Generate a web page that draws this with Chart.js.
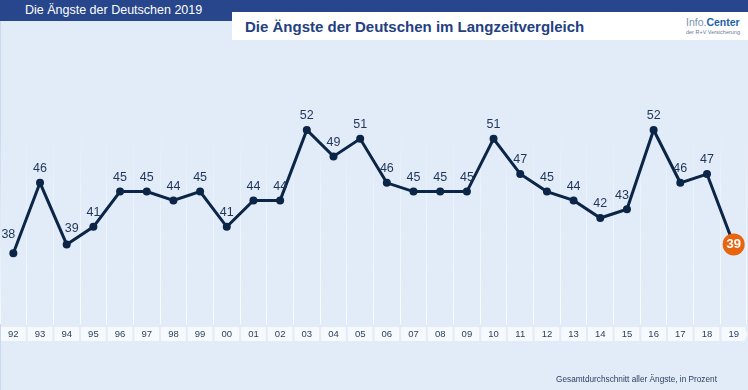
<!DOCTYPE html>
<html lang="de">
<head>
<meta charset="utf-8">
<title>Die Ängste der Deutschen im Langzeitvergleich</title>
<script src="https://cdn.jsdelivr.net/npm/chart.js@4.4.1/dist/chart.umd.min.js"></script>
<style>
  html, body { margin: 0; padding: 0; }
  body {
    width: 748px; height: 390px; overflow: hidden; position: relative;
    background: #e2ecf8;
    font-family: "Liberation Sans", Arial, sans-serif;
  }
  .edge { position: absolute; left: 0; top: 21px; width: 1px; height: 369px; background: #c8d9f0; }
  .topbar { position: absolute; left: 0; top: 0; width: 748px; height: 21px; background: #28468b; }
  .topbar span { position: absolute; left: 25px; top: 3px; color: #fff; font-size: 12.5px; }
  .titlebox { position: absolute; left: 232px; top: 12px; width: 516px; height: 28px; background: #fff; }
  .titlebox h1 { position: absolute; left: 13px; top: 6px; margin: 0; font-size: 15px; font-weight: bold; color: #23417f; white-space: nowrap; }
  .logo { position: absolute; left: 454px; top: 4px; text-align: left; }
  .logo .name { font-size: 10.5px; color: #7d8fb2; white-space: nowrap; }
  .logo .name b { color: #1d5fae; }
  .logo .sub { font-size: 5.5px; color: #6b7b98; margin-top: 1px; white-space: nowrap; }
  .note { position: absolute; left: 556px; top: 375px; font-size: 8.25px; color: #2b3f5e; white-space: nowrap; }
  #chart { position: absolute; left: 0; top: 0; }
</style>
</head>
<body>
<div class="topbar"><span>Die Ängste der Deutschen 2019</span></div>
<div class="edge"></div>
<div class="titlebox">
  <h1>Die Ängste der Deutschen im Langzeitvergleich</h1>
  <div class="logo"><div class="name">Info.<b>Center</b></div><div class="sub">der R+V Versicherung</div></div>
</div>
<canvas id="chart" width="748" height="390"></canvas>
<div class="note">Gesamtdurchschnitt aller Ängste, in Prozent</div>

<script>
// ==========================
// Data
// ==========================
const years = ['92', '93', '94', '95', '96', '97', '98', '99', '00', '01', '02', '03', '04', '05',
  '06', '07', '08', '09', '10', '11', '12', '13', '14', '15', '16', '17', '18', '19'];
const fearIndex = [38, 46, 39, 41, 45, 45, 44, 45, 41, 44, 44, 52, 49, 51,
  46, 45, 45, 45, 51, 47, 45, 44, 42, 43, 52, 46, 47, 39];

const navy = '#0b2546';
const orange = '#e8650f';
const lastIdx = fearIndex.length - 1;

// white label boxes behind the year ticks
const tickBoxes = {
  id: 'tickBoxes',
  beforeDraw(chart) {
    const ctx = chart.ctx;
    const x = chart.scales.x;
    const top = 327, bottom = 341;
    ctx.save();
    ctx.fillStyle = 'rgba(255,255,255,0.72)';
    years.forEach((y, i) => {
      const cx = x.getPixelForTick(i);
      ctx.beginPath();
      if (i === lastIdx) {
        ctx.moveTo(cx - 12, top);
        ctx.lineTo(cx + 11, top);
        ctx.lineTo(cx + 14, (top + bottom) / 2);
        ctx.lineTo(cx + 11, bottom);
        ctx.lineTo(cx - 12, bottom);
      } else {
        ctx.rect(cx - 12.3, top, 24.6, bottom - top);
      }
      ctx.fill();
    });
    ctx.restore();
  }
};

// nudge a label sideways when a steep segment would run through it
function labelShift(i) {
  const v = fearIndex[i];
  const prev = fearIndex[i - 1];
  const next = fearIndex[i + 1];
  if (next !== undefined && next - v >= 8 && (prev === undefined || prev < v)) {
    return { dx: -5, dy: prev === undefined ? -5 : 0 };
  }
  if (prev !== undefined && prev - v >= 7 && (next === undefined || next - v < prev - v)) {
    return { dx: 5, dy: -2 };
  }
  return { dx: 0, dy: 0 };
}

// value labels above points
const valueLabels = {
  id: 'valueLabels',
  afterDatasetsDraw(chart) {
    const ctx = chart.ctx;
    const meta = chart.getDatasetMeta(0);
    ctx.save();
    ctx.textAlign = 'center';
    ctx.textBaseline = 'middle';
    meta.data.forEach((pt, i) => {
      if (i === lastIdx) {
        ctx.font = 'bold 13px "Liberation Sans", Arial, sans-serif';
        ctx.fillStyle = '#fff';
        ctx.fillText(fearIndex[i], pt.x, pt.y + 0.5);
      } else {
        const s = labelShift(i);
        ctx.font = '12.5px "Liberation Sans", Arial, sans-serif';
        ctx.fillStyle = '#1f3557';
        ctx.fillText(fearIndex[i], pt.x + s.dx, pt.y - 14 + s.dy);
      }
    });
    ctx.restore();
  }
};

new Chart(document.getElementById('chart').getContext('2d'), {
  type: 'line',
  data: {
    labels: years,
    datasets: [{
      data: fearIndex,
      borderColor: navy,
      borderWidth: 3,
      tension: 0,
      pointRadius: fearIndex.map((v, i) => i === lastIdx ? 11 : 4),
      pointBackgroundColor: fearIndex.map((v, i) => i === lastIdx ? orange : navy),
      pointBorderColor: fearIndex.map((v, i) => i === lastIdx ? orange : navy),
      pointBorderWidth: 0,
      clip: false
    }]
  },
  options: {
    responsive: false,
    animation: false,
    layout: { autoPadding: false, padding: { top: 42, left: 0, right: 1, bottom: 45 } },
    plugins: { legend: { display: false }, tooltip: { enabled: false } },
    scales: {
      x: {
        offset: true,
        border: { display: false },
        // the categories already leave room for the labels
        afterFit: (scale) => { scale.paddingLeft = 0; scale.paddingRight = 0; },
        grid: {
          offset: true,
          drawTicks: false,
          lineWidth: 1,
          color: (c) => {
            const a = c.chart.chartArea;
            if (!a) return 'rgba(255,255,255,0.6)';
            const g = c.chart.ctx.createLinearGradient(0, a.top, 0, a.bottom);
            g.addColorStop(0, 'rgba(255,255,255,0)');
            g.addColorStop(0.3, 'rgba(255,255,255,0)');
            g.addColorStop(1, 'rgba(255,255,255,0.85)');
            return g;
          }
        },
        ticks: {
          padding: 5,
          color: '#2b3f5e',
          autoSkip: false,
          maxRotation: 0,
          font: { size: 9.5, family: '"Liberation Sans", Arial, sans-serif' }
        }
      },
      y: { display: false, min: 30, max: 62 }
    }
  },
  plugins: [tickBoxes, valueLabels]
});
</script>
</body>
</html>
